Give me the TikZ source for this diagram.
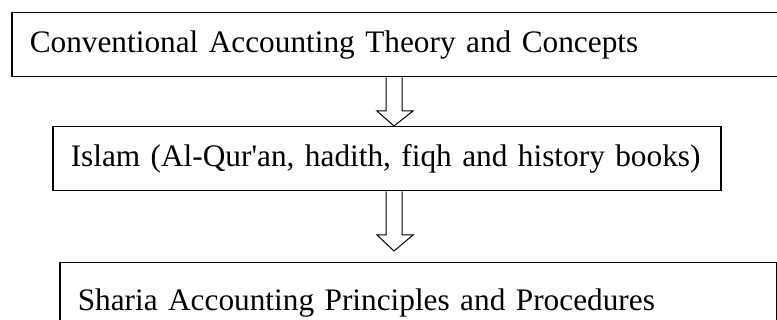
\documentclass[tikz,border=0pt]{standalone}
\usepackage{fontspec}
\setmainfont{Liberation Serif}
\usetikzlibrary{calc}
\tikzset{
  box/.style={draw=black, line width=1.5pt, anchor=north west, align=left,
    inner xsep=18pt, font=\fontsize{31.3}{36}\selectfont, text height=22pt, text depth=7pt},
  blockarrow/.style={draw=black, line width=1pt, fill=white, line join=miter}
}
\newcommand{\oneline}[1]{\makebox[0pt][l]{#1}}
\begin{document}
\begin{tikzpicture}[x=1pt,y=1pt]
\useasboundingbox (0,0) rectangle (777,-320);
\clip (0,0) rectangle (777,-320);
\fill[white] (0,0) rectangle (777,-320);
\node[box, minimum width=790pt, minimum height=64pt, text width=754pt] (b1) at (11,-12)
  {\oneline{Conventional Accounting Theory and Concepts}};
\node[box, minimum width=668pt, minimum height=64pt, text width=632pt] (b2) at (52,-126)
  {\oneline{Islam (Al-Qur\textquotesingle an, hadith, fiqh and history books)}};
\node[box, minimum width=717pt, minimum height=80pt, text width=681pt] (b3) at (59,-262)
  {\oneline{Sharia Accounting Principles and Procedures}};
\coordinate (ax) at (394,0);
% arrow 1: from box 1 to box 2
\coordinate (s1) at (b1.south -| ax);
\coordinate (t1) at (b2.north -| ax);
\draw[blockarrow] ($(s1)+(-8,0)$) -- ($(t1)+(-8,15)$) -- ($(t1)+(-17,15)$) -- (t1)
  -- ($(t1)+(19,15)$) -- ($(t1)+(8,15)$) -- ($(s1)+(8,0)$);
% arrow 2: from box 2 towards box 3
\coordinate (s2) at (b2.south -| ax);
\coordinate (t2) at ($(b3.north -| ax)+(0,11)$);
\draw[blockarrow] ($(s2)+(-8,0)$) -- ($(t2)+(-8,16)$) -- ($(t2)+(-17,16)$) -- (t2)
  -- ($(t2)+(19,16)$) -- ($(t2)+(8,16)$) -- ($(s2)+(8,0)$);
\end{tikzpicture}
\end{document}
